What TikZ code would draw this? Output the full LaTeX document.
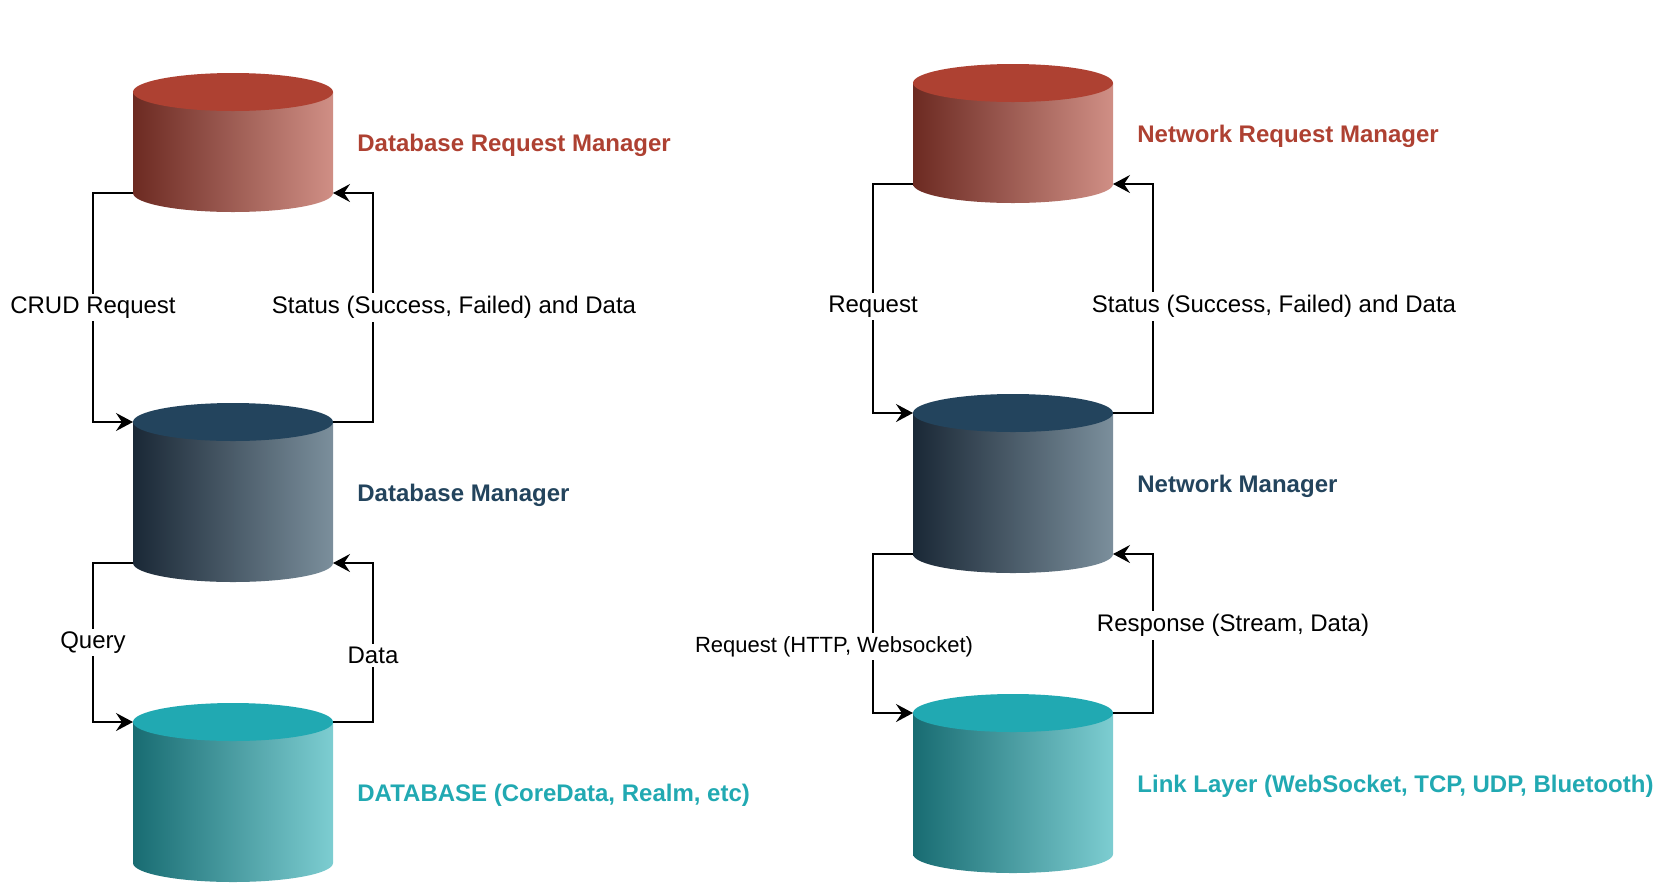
\documentclass[tikz,border=0pt]{standalone}
\usepackage{fontspec}
\setmainfont{Liberation Sans}
\usepackage{tikz}
\usetikzlibrary{arrows.meta,positioning}
\definecolor{mgrred}{RGB}{174,65,50}
\definecolor{mgrreddark}{RGB}{108,42,34}
\definecolor{mgrredlight}{RGB}{208,143,133}
\definecolor{mgrblue}{RGB}{35,68,93}
\definecolor{mgrbluedark}{RGB}{26,40,54}
\definecolor{mgrbluelight}{RGB}{123,143,156}
\definecolor{mgrteal}{RGB}{33,169,178}
\definecolor{mgrtealdark}{RGB}{24,108,114}
\definecolor{mgrteallight}{RGB}{125,205,209}

\begin{document}
\begin{tikzpicture}[
    x=0.5pt, y=-0.5pt,
    cyl/.style={rectangle, minimum width=100pt, inner sep=0pt, outer sep=0pt},
    title/.style={font=\fontsize{12}{14}\selectfont\bfseries, anchor=west, inner sep=0pt, yshift=-1.6pt},
    arrow/.style={-{Stealth[length=8.5pt, width=9pt, inset=3pt]}, line width=0.8pt, draw=black},
    tag/.style={font=\fontsize{12}{14}\selectfont, fill=white, inner sep=1.5pt}
]
\useasboundingbox (0,0) rectangle (1664,890);

% Nodes
\node (dbreq) [cyl, minimum height=50.5pt] at (233,142.5) {};
\node (dbman) [cyl, minimum height=70.5pt] at (233,492.5) {};
\node (db) [cyl, minimum height=70.5pt] at (233,792.5) {};
\node (netreq) [cyl, minimum height=50.5pt] at (1013,133.5) {};
\node (netman) [cyl, minimum height=70.5pt] at (1013,483.5) {};
\node (link) [cyl, minimum height=70.5pt] at (1013,783.5) {};

% Cylinder bodies
\shade [left color=mgrreddark, right color=mgrredlight] (dbreq.north west) -- (dbreq.south west) arc [start angle=180, end angle=360, x radius=50pt, y radius=9.5pt] -- (dbreq.north east) -- cycle;
\fill [mgrred] (dbreq.north) ellipse [x radius=50pt, y radius=9.5pt];
\shade [left color=mgrbluedark, right color=mgrbluelight] (dbman.north west) -- (dbman.south west) arc [start angle=180, end angle=360, x radius=50pt, y radius=9.5pt] -- (dbman.north east) -- cycle;
\fill [mgrblue] (dbman.north) ellipse [x radius=50pt, y radius=9.5pt];
\shade [left color=mgrtealdark, right color=mgrteallight] (db.north west) -- (db.south west) arc [start angle=180, end angle=360, x radius=50pt, y radius=9.5pt] -- (db.north east) -- cycle;
\fill [mgrteal] (db.north) ellipse [x radius=50pt, y radius=9.5pt];
\shade [left color=mgrreddark, right color=mgrredlight] (netreq.north west) -- (netreq.south west) arc [start angle=180, end angle=360, x radius=50pt, y radius=9.5pt] -- (netreq.north east) -- cycle;
\fill [mgrred] (netreq.north) ellipse [x radius=50pt, y radius=9.5pt];
\shade [left color=mgrbluedark, right color=mgrbluelight] (netman.north west) -- (netman.south west) arc [start angle=180, end angle=360, x radius=50pt, y radius=9.5pt] -- (netman.north east) -- cycle;
\fill [mgrblue] (netman.north) ellipse [x radius=50pt, y radius=9.5pt];
\shade [left color=mgrtealdark, right color=mgrteallight] (link.north west) -- (link.south west) arc [start angle=180, end angle=360, x radius=50pt, y radius=9.5pt] -- (link.north east) -- cycle;
\fill [mgrteal] (link.north) ellipse [x radius=50pt, y radius=9.5pt];

% Titles
\node (dbreqtitle) [title, text=mgrred, right=12pt of dbreq] {Database Request Manager};
\node (dbmantitle) [title, text=mgrblue, right=12pt of dbman] {Database Manager};
\node (dbtitle) [title, text=mgrteal, right=12pt of db] {DATABASE (CoreData, Realm, etc)};
\node (netreqtitle) [title, text=mgrred, right=12pt of netreq] {Network Request Manager};
\node (netmantitle) [title, text=mgrblue, right=12pt of netman] {Network Manager};
\node (linktitle) [title, text=mgrteal, right=12pt of link] {Link Layer (WebSocket, TCP, UDP, Bluetooth)};

% Connectors
\draw [arrow] (dbreq.south west) -- ++(-40,0) |- node[tag, pos=0.25] {CRUD Request} (dbman.north west);
\draw [arrow] (dbman.north east) -- ++(40,0) |- node[tag, pos=0.25, xshift=40.5pt] {Status (Success, Failed) and Data} (dbreq.south east);
\draw [arrow] (dbman.south west) -- ++(-40,0) |- node[tag, pos=0.25] {Query} (db.north west);
\draw [arrow] (db.north east) -- ++(40,0) |- node[tag, pos=0.25, yshift=-6.5pt] {Data} (dbman.south east);
\draw [arrow] (netreq.south west) -- ++(-40,0) |- node[tag, pos=0.25, yshift=-4pt] {Request} (netman.north west);
\draw [arrow] (netman.north east) -- ++(40,0) |- node[tag, pos=0.25, xshift=60.5pt, yshift=-4pt] {Status (Success, Failed) and Data} (netreq.south east);
\draw [arrow] (netman.south west) -- ++(-40,0) |- node[tag, pos=0.25, xshift=-19.5pt, yshift=-6.5pt, font=\fontsize{11}{13}\selectfont] {Request (HTTP, Websocket)} (link.north west);
\draw [arrow] (link.north east) -- ++(40,0) |- node[tag, pos=0.25, xshift=40pt, yshift=4pt] {Response (Stream, Data)} (netman.south east);

\end{tikzpicture}
\end{document}
